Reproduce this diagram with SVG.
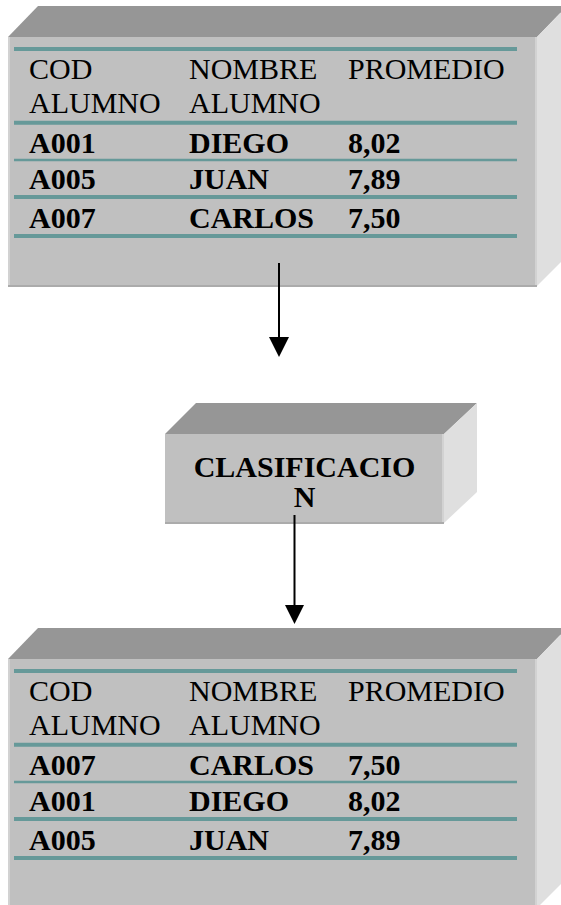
<svg xmlns="http://www.w3.org/2000/svg" width="561" height="905" viewBox="0 0 561 905">
<style>
.front{fill:#C0C0C0}
.topf{fill:#969696}
.side{fill:#DFDFDF}
.hl{stroke:#D2D2D2;stroke-width:2}
.sh{stroke:#ABABAB;stroke-width:2}
.teal{stroke:#669999}
.t{font-family:"Liberation Serif","Times New Roman",serif;font-size:30px;fill:#000}
.b{font-weight:bold}
.conn{stroke:#000;stroke-width:2}
</style>
<defs>
<g id="tbl">
<polygon class="topf" points="8,37 38,6 567,6 537,37"/>
<polygon class="side" points="537,37 567,6 567,256 537,286"/>
<rect class="front" x="8" y="37" width="529" height="249"/>
<line class="hl" x1="9" y1="37" x2="9" y2="286"/>
<line class="hl" x1="536" y1="37" x2="536" y2="286"/>
<line class="sh" x1="8" y1="286" x2="537" y2="286"/>
<line class="teal" x1="14" y1="49" x2="517" y2="49" stroke-width="4"/>
<line class="teal" x1="14" y1="122.7" x2="517" y2="122.7" stroke-width="4"/>
<line class="teal" x1="14" y1="160" x2="517" y2="160" stroke-width="2.4"/>
<line class="teal" x1="14" y1="197" x2="517" y2="197" stroke-width="4"/>
<line class="teal" x1="14" y1="236" x2="517" y2="236" stroke-width="4"/>
<text class="t" x="29" y="79">COD</text>
<text class="t" x="29" y="113">ALUMNO</text>
<text class="t" x="189" y="79">NOMBRE</text>
<text class="t" x="189" y="113">ALUMNO</text>
<text class="t" x="348" y="79">PROMEDIO</text>
</g>
</defs>
<g id="tabla-original">
<use href="#tbl"/>
<text class="t b" x="29" y="153">A001</text>
<text class="t b" x="189" y="153">DIEGO</text>
<text class="t b" x="348" y="153">8,02</text>
<text class="t b" x="29" y="189">A005</text>
<text class="t b" x="189" y="189">JUAN</text>
<text class="t b" x="348" y="189">7,89</text>
<text class="t b" x="29" y="228">A007</text>
<text class="t b" x="189" y="228">CARLOS</text>
<text class="t b" x="348" y="228">7,50</text>
</g>
<g id="clasificacion">
<polygon class="topf" points="165,434 196,403 477,403 444,434"/>
<polygon class="side" points="444,434 477,403 477,492 444,523"/>
<rect class="front" x="165" y="434" width="279" height="89"/>
<line class="hl" x1="443" y1="434" x2="443" y2="523"/>
<line class="sh" x1="165" y1="523" x2="444" y2="523"/>
<text class="t b" x="304.5" y="477" text-anchor="middle">CLASIFICACIO</text>
<text class="t b" x="304.5" y="507" text-anchor="middle">N</text>
</g>
<g id="tabla-ordenada">
<use href="#tbl" transform="translate(0,622)"/>
<text class="t b" x="29" y="775">A007</text>
<text class="t b" x="189" y="775">CARLOS</text>
<text class="t b" x="348" y="775">7,50</text>
<text class="t b" x="29" y="811">A001</text>
<text class="t b" x="189" y="811">DIEGO</text>
<text class="t b" x="348" y="811">8,02</text>
<text class="t b" x="29" y="850">A005</text>
<text class="t b" x="189" y="850">JUAN</text>
<text class="t b" x="348" y="850">7,89</text>
</g>
<g id="connectors">
<line class="conn" x1="279" y1="263" x2="279" y2="340"/>
<polygon points="269,337 289,337 279,357" fill="#000"/>
<line class="conn" x1="294.5" y1="515" x2="294.5" y2="608"/>
<polygon points="285,605 304,605 294.5,624" fill="#000"/>
</g>
</svg>
